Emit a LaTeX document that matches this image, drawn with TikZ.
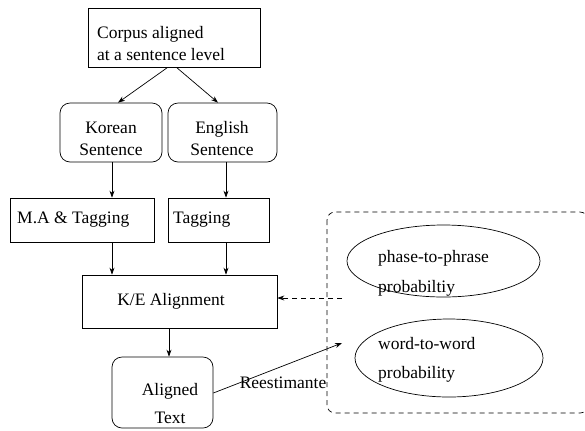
\documentclass[tikz,border=0pt]{standalone}
\usepackage{fontspec}
\setmainfont{Liberation Serif}
\usetikzlibrary{arrows.meta,shapes.geometric}
\begin{document}
\begin{tikzpicture}[x=1bp,y=-1bp,
  every node/.style={font=\fontsize{17.5bp}{22bp}\selectfont},
  box/.style={draw, line width=0.7bp, inner sep=0pt},
  rbox/.style={box, rounded corners=10bp},
  txt/.style={inner sep=0pt},
  oval/.style={draw, line width=0.7bp, ellipse, inner sep=0pt},
  arr/.style={line width=0.7bp, -{Stealth[length=7bp,width=5bp]}},
  dashbox/.style={draw, line width=0.7bp, dash pattern=on 5bp off 4bp, rounded corners=8bp}
]
\clip (0,0) rectangle (585,430);
\fill[white] (0,0) rectangle (585,430);

% left column boxes
\node[box, minimum width=172bp, minimum height=59bp] (corpus) at (174,38) {};
\node[txt, align=left, anchor=west, font=\fontsize{17.5bp}{22bp}\selectfont] (corpust) at (97,44) {Corpus aligned\\at a sentence level};

\node[rbox, minimum width=102bp, minimum height=59bp] (korean) at (111,132.5) {};
\node[txt, align=center] (koreant) at (111,139) {Korean\\Sentence};

\node[rbox, minimum width=109bp, minimum height=59bp] (english) at (222.5,132.5) {};
\node[txt, align=center] (englisht) at (222,139) {English\\Sentence};

\node[box, minimum width=144bp, minimum height=44bp] (ma) at (82,220) {};
\node[txt, anchor=west] (mat) at (17,220) {M.A \& Tagging};

\node[box, minimum width=101bp, minimum height=44bp] (tag) at (218.5,220) {};
\node[txt, anchor=west] (tagt) at (173,220) {Tagging};

\node[box, minimum width=195bp, minimum height=53bp] (ke) at (179.5,301.5) {};
\node[txt] (ket) at (171,301) {K/E Alignment};

\node[rbox, minimum width=101bp, minimum height=71bp] (aligned) at (162.5,392.5) {};
\node[txt, align=center, font=\fontsize{17.5bp}{28bp}\selectfont] (alignedt) at (170,404) {Aligned\\Text};

% right dashed group
\draw[dashbox] (327,212) rectangle (588,413);
\node[oval, minimum width=193bp, minimum height=72bp] (phrase) at (443.5,261) {};
\node[txt, align=left, anchor=west, font=\fontsize{17.5bp}{30bp}\selectfont] (phraset) at (378,273) {phase-to-phrase\\probabiltiy};
\node[oval, minimum width=188bp, minimum height=78bp] (word) at (449,358) {};
\node[txt, align=left, anchor=west, font=\fontsize{17.5bp}{29bp}\selectfont] (wordt) at (378,360) {word-to-word\\probability};

\coordinate (fb) at (342,298);
\coordinate (re) at (342,343);

% connectors
\draw[arr] ([xshift=-7bp]corpus.south) -- (korean.north -| 118,0);
\draw[arr] ([xshift=3bp]corpus.south) -- (english.north -| 218,0);
\draw[arr] (korean.south -| 112,0) -- (ma.north -| 112,0);
\draw[arr] (english.south -| 226,0) -- (tag.north -| 226,0);
\draw[arr] (ma.south -| 112,0) -- (ke.north -| 112,0);
\draw[arr] (tag.south -| 226,0) -- (ke.north -| 226,0);
\draw[arr] (ke.south -| 169,0) -- (aligned.north -| 169,0);
\draw[arr, dash pattern=on 5bp off 4bp] (fb) -- (ke.east |- fb);
\draw[arr] (aligned.east |- 0,393) -- (re);
\node[txt, fill=none] (ret) at (283,383) {Reestimante};
\end{tikzpicture}
\end{document}
